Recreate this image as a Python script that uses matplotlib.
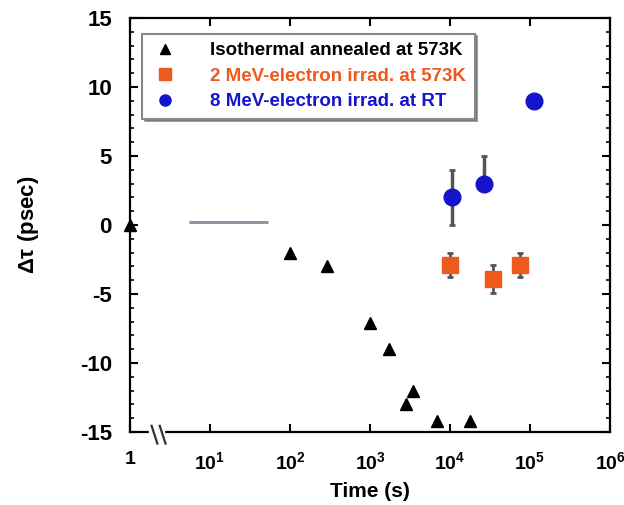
import numpy as np
import matplotlib
matplotlib.use('Agg')
import matplotlib.pyplot as plt
from matplotlib.lines import Line2D
from matplotlib.ticker import FixedLocator, FixedFormatter, MultipleLocator, NullLocator

plt.rcParams['font.family'] = ['Liberation Sans', 'DejaVu Sans']
plt.rcParams['font.weight'] = 'bold'
plt.rcParams['axes.unicode_minus'] = False
plt.rcParams['mathtext.fontset'] = 'custom'
plt.rcParams['mathtext.rm'] = 'Liberation Sans:bold'
plt.rcParams['mathtext.bf'] = 'Liberation Sans:bold'
plt.rcParams['mathtext.it'] = 'Liberation Sans:bold'

# isothermal annealing at 573K
iso_t = [1, 100, 290, 1000, 1740, 2820, 3450, 6900, 17800]
iso_dt = [0, -2.0, -3.0, -7.1, -9.0, -13.0, -12.0, -14.2, -14.2]

# 2 MeV electron irradiation at 573K
e2_t = [10000, 34500, 74000]
e2_dt = [-2.9, -3.9, -2.9]
e2_err = [0.9, 1.0, 0.9]

# 8 MeV electron irradiation at RT
e8_t = [10500, 26500, 112000]
e8_dt = [2.0, 3.0, 9.0]
e8_err_lo = [2.0, 0.0, 0.0]
e8_err_hi = [2.0, 2.0, 0.0]

# grey reference bar near zero
ref_t = [5.5, 53]
ref_dt = [0.25, 0.25]

xticks = [1, 10, 100, 1e3, 1e4, 1e5, 1e6]
xlabels = ['1', '$10^{1}$', '$10^{2}$', '$10^{3}$', '$10^{4}$', '$10^{5}$', '$10^{6}$']

orange = '#ee5a1c'
blue = '#1414cc'

fig = plt.figure(figsize=(6.24, 5.05), dpi=100)
ax = fig.add_axes([130/624, 1-432/505, 480/624, 414/505])

ax.plot(ref_t, ref_dt, color='#8a96a6', lw=2.2, solid_capstyle='butt')

ax.plot(iso_t, iso_dt, '^', color='black', ms=9, ls='none', clip_on=False, zorder=4)
ax.errorbar(e2_t, e2_dt, yerr=e2_err, fmt='s', color=orange, ms=11,
            ecolor='#555555', elinewidth=2, capsize=2, capthick=2, zorder=3)
ax.errorbar(e8_t, e8_dt, yerr=[e8_err_lo, e8_err_hi], fmt='o', color=blue, ms=12,
            ecolor='#555555', elinewidth=2.5, capsize=2, capthick=2, zorder=3)

ax.set_xscale('log')
ax.set_xlim(1, 1e6)
ax.set_ylim(-15, 15)
ax.xaxis.set_major_locator(FixedLocator(xticks))
ax.xaxis.set_major_formatter(FixedFormatter(xlabels))
ax.xaxis.set_minor_locator(NullLocator())
ax.yaxis.set_major_locator(MultipleLocator(5))
ax.yaxis.set_minor_locator(MultipleLocator(1))

ax.tick_params(which='both', direction='in', top=True, right=True)
ax.tick_params(axis='x', pad=14, labelsize=14)
ax.tick_params(axis='y', pad=13, labelsize=16)
ax.tick_params(which='major', length=6, width=1.5)
ax.tick_params(which='minor', length=3, width=1.2)
for s in ax.spines.values():
    s.set_linewidth(1.6)

ax.set_xlabel('Time (s)', fontsize=15, fontweight='bold', labelpad=6)
ax.set_ylabel(r'$\Delta\tau$ (psec)', fontsize=16, fontweight='bold', labelpad=28)

# axis break marks
ax.add_patch(plt.Rectangle((0.04, -0.01), 0.03, 0.02, transform=ax.transAxes,
                           color='white', clip_on=False, zorder=5))
for x0 in (0.045, 0.062):
    ax.plot([x0, x0 + 0.012], [0.015, -0.028], transform=ax.transAxes,
            color='#333333', lw=1.6, clip_on=False, zorder=6)

handles = [
    Line2D([], [], marker='^', color='black', ls='none', ms=7),
    Line2D([], [], marker='s', color=orange, ls='none', ms=8),
    Line2D([], [], marker='o', color=blue, ls='none', ms=8),
]
names = ['Isothermal annealed at 573K', '2 MeV-electron irrad. at 573K', '8 MeV-electron irrad. at RT']
leg = ax.legend(handles, names, loc='upper left', bbox_to_anchor=(0.005, 0.985), fontsize=13.5,
                frameon=True, fancybox=False, shadow=True, handletextpad=1.6,
                borderpad=0.45, labelspacing=0.45, handlelength=1.6, numpoints=1)
leg.get_frame().set_edgecolor('#888888')
leg.get_frame().set_linewidth(1.5)
for txt, c in zip(leg.get_texts(), ['black', orange, blue]):
    txt.set_color(c)

fig.savefig('out.png', dpi=100)
